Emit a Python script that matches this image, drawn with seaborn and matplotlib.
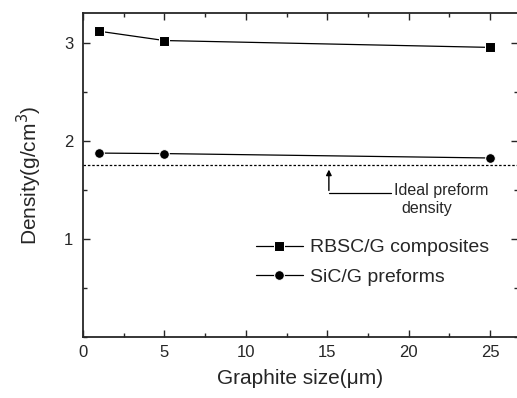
import matplotlib
matplotlib.use("Agg")
import matplotlib.pyplot as plt
import seaborn as sns
import pandas as pd
from matplotlib.ticker import MultipleLocator, FixedLocator

sizes = [1, 5, 25]
rbsc = [3.125, 3.03, 2.96]
sic = [1.88, 1.875, 1.83]
ideal_density = 1.76
y_ticks = [1, 2, 3]

sns.set_style("ticks")
plt.rcParams['font.family'] = ['Liberation Sans', 'DejaVu Sans']

df = pd.DataFrame({
    "size": sizes * 2,
    "density": rbsc + sic,
    "series": ["RBSC/G composites"] * 3 + ["SiC/G preforms"] * 3,
})

fig = plt.figure(figsize=(5.17, 3.98), dpi=100)
ax = fig.add_axes([0.1605, 0.153, 0.841, 0.814])

sns.lineplot(data=df, x="size", y="density", hue="series", style="series",
             markers={"RBSC/G composites": "s", "SiC/G preforms": "o"},
             dashes=False, palette=["black", "black"], linewidth=0.9,
             markersize=7, ax=ax)

ax.axhline(ideal_density, color="black", linestyle=(0, (2, 1.5)), linewidth=0.9)

ax.set_xlim(0, 26.7)
ax.set_ylim(0, 3.31)
ax.xaxis.set_major_locator(MultipleLocator(5))
ax.xaxis.set_minor_locator(MultipleLocator(2.5))
ax.yaxis.set_major_locator(FixedLocator(y_ticks))
ax.yaxis.set_minor_locator(MultipleLocator(0.5))
ax.tick_params(which="both", direction="in", top=True, right=True, labelsize=12)
ax.tick_params(which="major", length=5, width=1)
ax.tick_params(which="minor", length=3, width=1)
ax.tick_params(axis="x", pad=6)
ax.tick_params(axis="y", pad=7)
for s in ax.spines.values():
    s.set_linewidth(1.3)

ax.set_xlabel("Graphite size(\u03bcm)", fontsize=15, labelpad=6)
ax.set_ylabel("Density(g/cm$^3$)", fontsize=15, labelpad=14)

ax.annotate("", xy=(15.1, ideal_density - 0.02), xytext=(15.1, 1.47),
            arrowprops=dict(arrowstyle="-|>", color="black", lw=1, mutation_scale=8))
ax.plot([15.1, 18.9], [1.47, 1.47], color="black", linewidth=0.9)
ax.text(19.1, 1.50, "Ideal preform", fontsize=11.5, va="center", ha="left")
ax.text(21.1, 1.31, "density", fontsize=11.5, va="center", ha="center")

leg = ax.legend(loc="lower left", bbox_to_anchor=(0.38, 0.135), frameon=False,
                fontsize=14, handlelength=2.4, handletextpad=0.4, labelspacing=0.6,
                borderaxespad=0)

fig.savefig("out.png", dpi=100)
